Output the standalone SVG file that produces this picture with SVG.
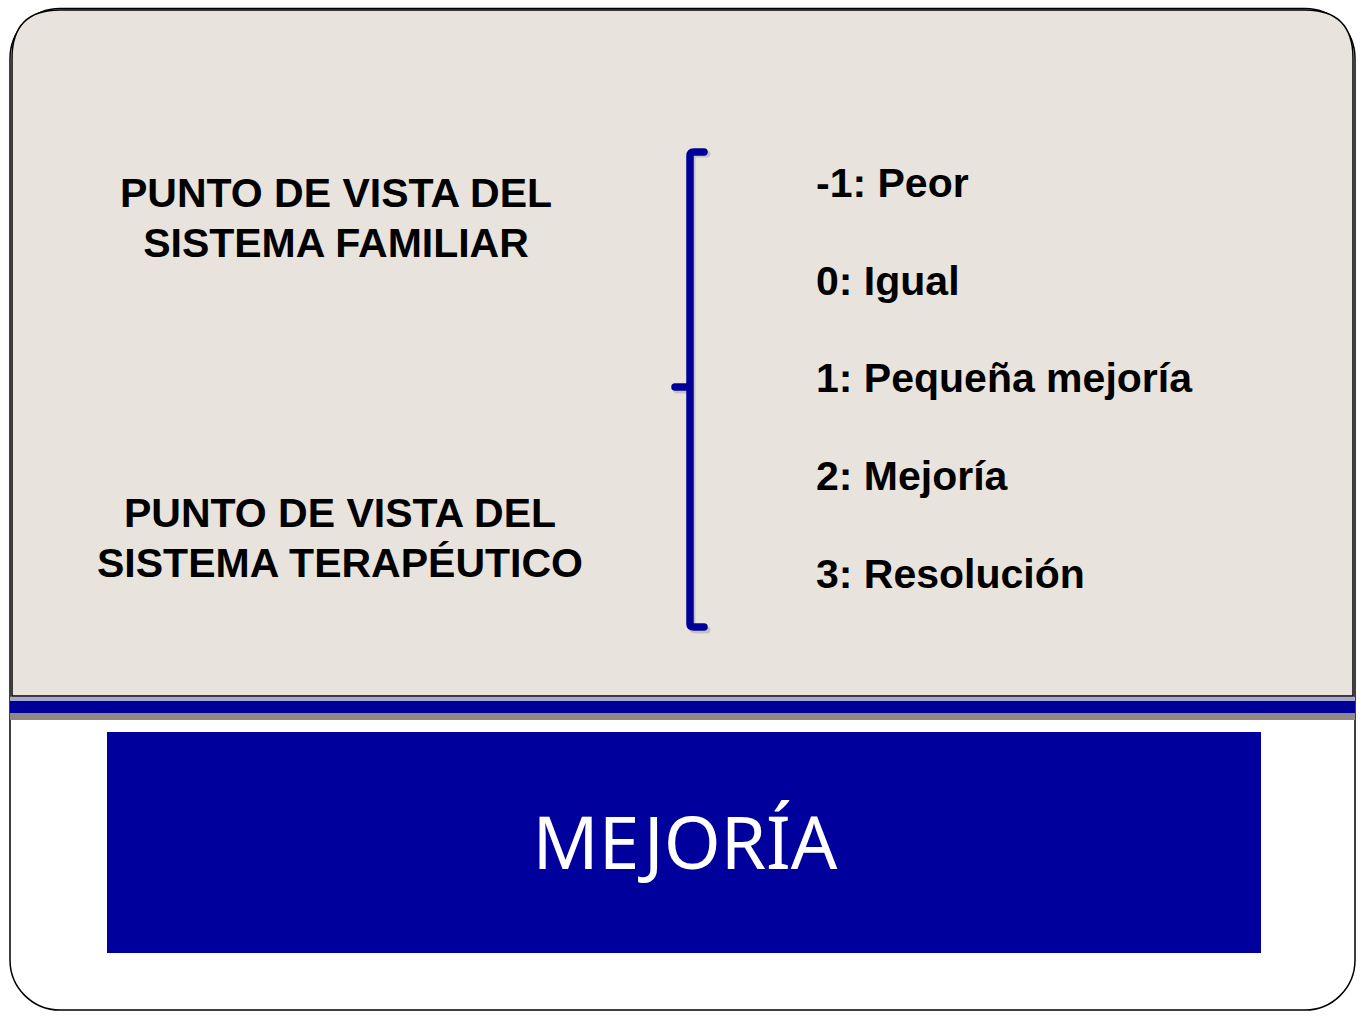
<svg xmlns="http://www.w3.org/2000/svg" width="1365" height="1024" viewBox="0 0 1365 1024">
<defs>
<style>
.lbl{font-family:"Liberation Sans",Arial,sans-serif;font-weight:bold;font-size:41px;fill:#000;}
.lc{text-anchor:middle;}
.title{font-family:"Noto Sans","Open Sans",sans-serif;font-size:73px;fill:#fff;text-anchor:middle;}
.br{fill:none;stroke:#000099;stroke-width:7.5;stroke-linecap:round;stroke-linejoin:round;}
.brs{fill:none;stroke:#9a98a8;stroke-width:7;stroke-linecap:round;stroke-linejoin:round;opacity:0.45;}
</style>
</defs>
<rect x="0" y="0" width="1365" height="1024" fill="#ffffff"/>
<g id="frame">
<rect x="10" y="8.5" width="1345" height="1001.5" rx="50" ry="50" fill="#ffffff" stroke="#000" stroke-width="1.5"/>
<path d="M12 696 L12 58 Q12 10 60 10 L1305 10 Q1353 10 1353 58 L1353 696 Z" fill="#e8e4dd" stroke="#000" stroke-width="1.5"/>
<rect x="10" y="697" width="1345" height="4" fill="#a4a6d4"/>
<rect x="10" y="701" width="1345" height="12" fill="#000099"/>
<rect x="10" y="713" width="1345" height="7" fill="#908886"/>
</g>
<g id="left-top">
<text class="lbl lc" x="336" y="207">PUNTO DE VISTA DEL</text>
<text class="lbl lc" x="336" y="257">SISTEMA FAMILIAR</text>
</g>
<g id="left-bottom">
<text class="lbl lc" x="340" y="527">PUNTO DE VISTA DEL</text>
<text class="lbl lc" x="340" y="577">SISTEMA TERAPÉUTICO</text>
</g>
<g id="connectors">
<path class="brs" d="M707 154 L696 154 Q692 154 692 158 L692 626 Q692 630 696 630 L707 630 M677 390 L692 390"/>
<path class="br" d="M704 152 L694 152 Q690 152 690 156 L690 624 Q690 627 694 627 L704 627 M675 387 L690 387"/>
</g>
<g id="scale">
<text class="lbl" x="816" y="197">-1: Peor</text>
<text class="lbl" x="816" y="295">0: Igual</text>
<text class="lbl" x="816" y="392">1: Pequeña mejoría</text>
<text class="lbl" x="816" y="490">2: Mejoría</text>
<text class="lbl" x="816" y="588">3: Resolución</text>
</g>
<g id="title">
<rect x="107" y="732" width="1154" height="221" fill="#00009c"/>
<text class="title" x="685" y="869">MEJORÍA</text>
</g>
</svg>
